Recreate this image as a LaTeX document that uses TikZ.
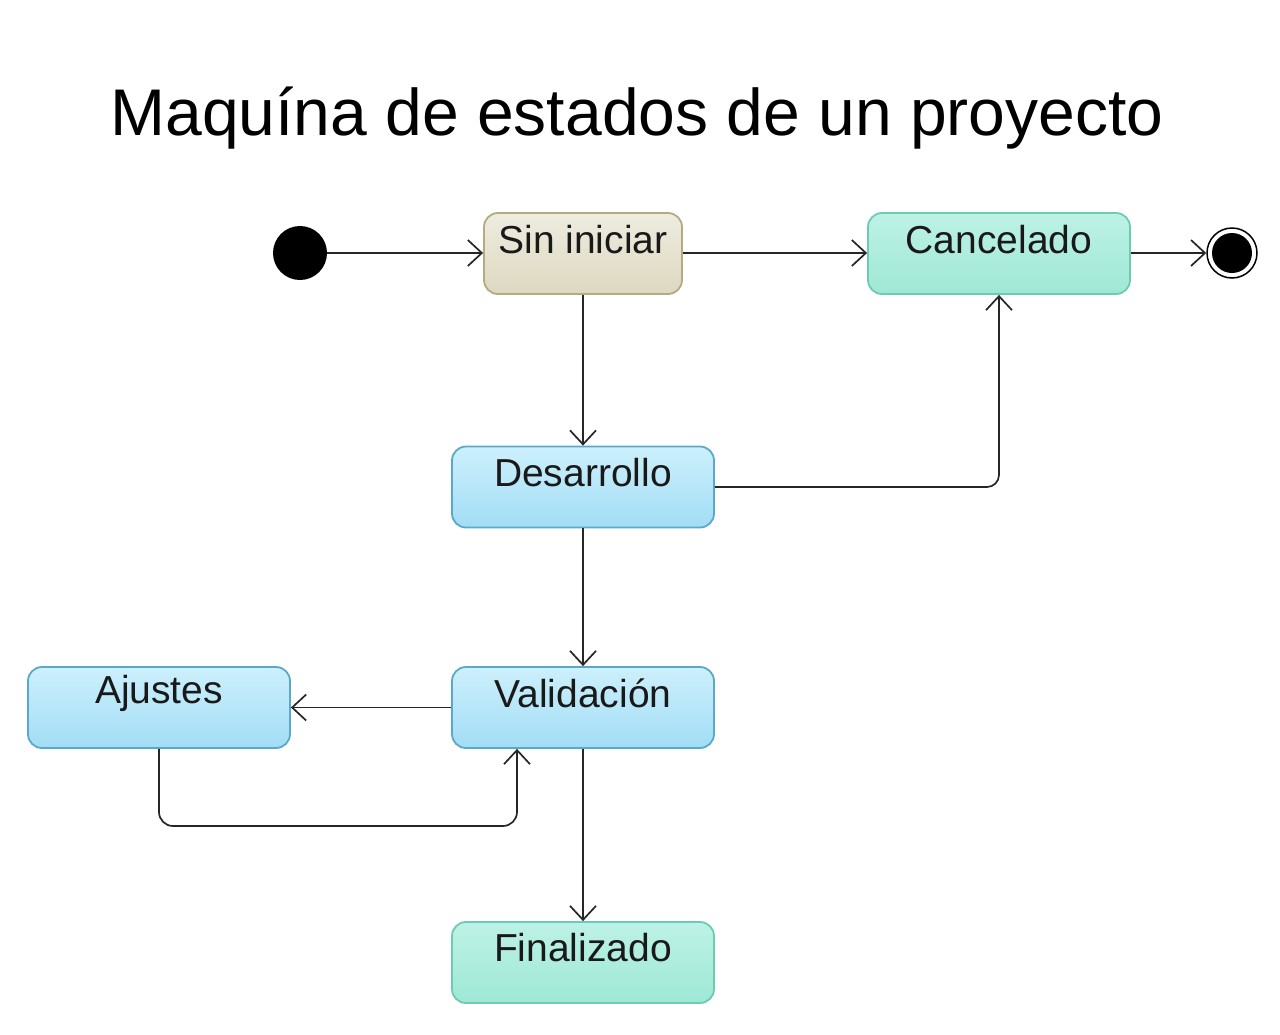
\documentclass[tikz,border=0pt]{standalone}
\usepackage{fontspec}
\setmainfont{Liberation Sans}
\usetikzlibrary{arrows.meta}
\definecolor{beigeTop}{HTML}{EEECE0}
\definecolor{beigeBot}{HTML}{DDD8C0}
\definecolor{beigeLine}{HTML}{B3AC82}
\definecolor{tealTop}{HTML}{BDF2E6}
\definecolor{tealBot}{HTML}{9FE8D5}
\definecolor{tealLine}{HTML}{6ECBB3}
\definecolor{blueTop}{HTML}{CDF0FC}
\definecolor{blueBot}{HTML}{A2DDF5}
\definecolor{blueLine}{HTML}{5AA9CA}
\tikzset{
  statebox/.style={rounded corners=14pt, line width=1.8pt, minimum height=81pt, inner sep=0pt},
  beigebox/.style={statebox, draw=beigeLine, top color=beigeTop, bottom color=beigeBot, minimum width=198pt},
  tealbox/.style={statebox, draw=tealLine, top color=tealTop, bottom color=tealBot, minimum width=262pt},
  bluebox/.style={statebox, draw=blueLine, top color=blueTop, bottom color=blueBot, minimum width=262pt},
  lbl/.style={font=\fontsize{39}{44}\selectfont, inner sep=0pt, text=black!90},
  conn/.style={line width=1.7pt, draw=black!85, -{Straight Barb[length=14pt,width=26pt,line width=1.7pt]}},
}
\begin{document}
\begin{tikzpicture}[x=1pt,y=-1pt]
\useasboundingbox (0,0) rectangle (1280,1034);
\node[font=\fontsize{66}{72}\selectfont, text=black] (title) at (637,118) {Maquína de estados de un proyecto};

% initial and final states
\node[circle, fill=black, minimum size=54pt, inner sep=0pt] (init) at (300,253) {};
\node[circle, draw=black, line width=1.5pt, fill=white, minimum size=50pt, inner sep=0pt] (fin) at (1232,253) {};
\node[circle, fill=black, minimum size=40pt, inner sep=0pt] (finc) at (1232,253) {};

% states
\node[beigebox] (sin) at (583,253.5) {};
\node[lbl] (sint) at (583,240) {Sin iniciar};
\node[tealbox] (can) at (999,253.5) {};
\node[lbl] (cant) at (999,240) {Cancelado};
\node[bluebox] (des) at (583,487) {};
\node[lbl] (dest) at (583,473) {Desarrollo};
\node[bluebox] (val) at (583,707.5) {};
\node[lbl] (valt) at (583,693) {Validación};
\node[bluebox] (aju) at (159,707.5) {};
\node[lbl] (ajut) at (159,693) {Ajustes};
\node[tealbox] (fiz) at (583,962.5) {};
\node[lbl] (fizt) at (583,948) {Finalizado};

% connectors
\draw[conn] (init.east) -- (sin.west |- init.east);
\draw[conn] (sin.east |- init.east) -- (can.west |- init.east);
\draw[conn] (can.east |- fin.west) -- (fin.west);
\draw[conn] (sin.south) -- (des.north);
\draw[conn, rounded corners=12pt] (des.east) -- (des.east -| can.south) -- (can.south);
\draw[conn] (des.south) -- (val.north);
\draw[conn] (val.west) -- (aju.east);
\coordinate (ret) at (517,826);
\draw[conn, rounded corners=14pt] (aju.south) -- (aju.south |- ret) -- (ret) -- (ret |- val.south);
\draw[conn] (val.south) -- (fiz.north);
\end{tikzpicture}
\end{document}
